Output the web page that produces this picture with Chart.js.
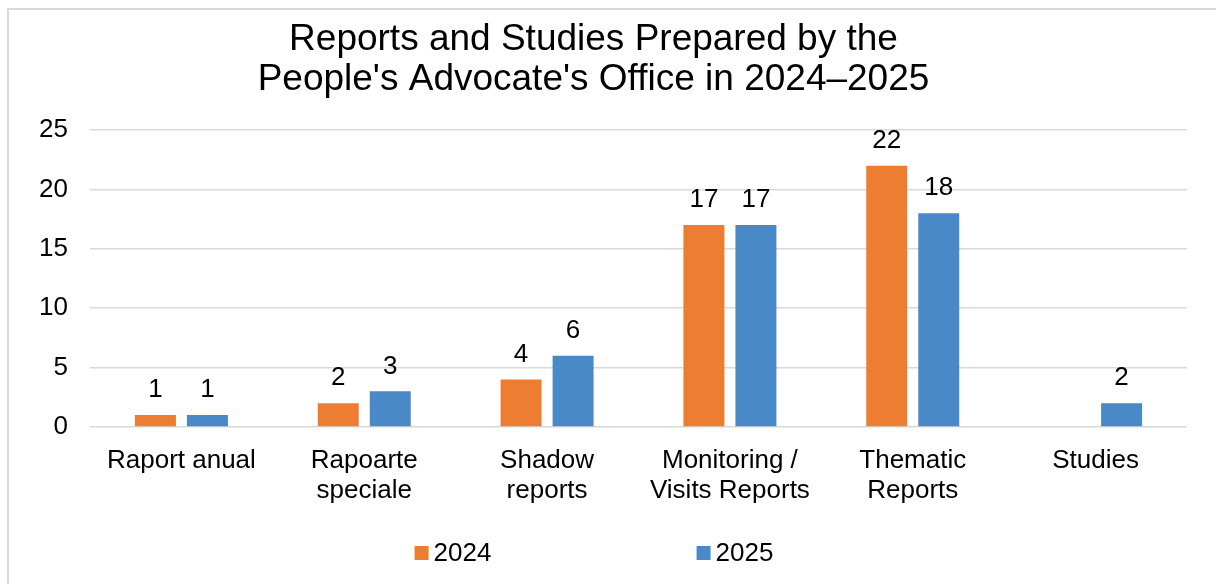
<!DOCTYPE html>
<html>
<head>
<meta charset="utf-8">
<script src="https://cdn.jsdelivr.net/npm/chart.js@4/dist/chart.umd.min.js"></script>
<style>
  html, body { margin: 0; padding: 0; background: #fff; overflow: hidden; }
  .rule { position: absolute; background: #d9d9d9; }
  #wrap { position: absolute; left: 0; top: 0; width: 1188px; height: 584px; }
</style>
</head>
<body>
<div class="rule" style="left:7px;top:8px;width:1209px;height:2px"></div>
<div class="rule" style="left:7px;top:8px;width:2px;height:576px"></div>
<div id="wrap"><canvas id="myChart"></canvas></div>
<script>
var categories = [
  "Raport anual",
  ["Rapoarte", "speciale"],
  ["Shadow", "reports"],
  ["Monitoring /", "Visits Reports"],
  ["Thematic", "Reports"],
  "Studies"
];
var values2024 = [1, 2, 4, 17, 22, null];
var values2025 = [1, 3, 6, 17, 18, 2];
var yTicks = [0, 5, 10, 15, 20, 25];
var seriesNames = ["2024", "2025"];
var seriesColors = ["#ED7D31", "#4A89C8"];

var FONT = "'Liberation Sans', Arial, sans-serif";

// value labels above the bars
var valueLabels = {
  id: "valueLabels",
  afterDatasetsDraw(chart) {
    const ctx = chart.ctx;
    ctx.save();
    ctx.font = "26px " + FONT;
    ctx.fillStyle = "#000";
    ctx.textAlign = "center";
    ctx.textBaseline = "middle";
    chart.data.datasets.forEach((ds, i) => {
      chart.getDatasetMeta(i).data.forEach((bar, j) => {
        if (ds.data[j] == null) return;
        ctx.fillText(String(ds.data[j]), bar.x, bar.y - 25);
      });
    });
    ctx.restore();
  }
};

// legend spread out like the original
var wideLegend = {
  id: "wideLegend",
  afterDraw(chart) {
    const ctx = chart.ctx;
    const step = 282;
    ctx.save();
    ctx.font = "26px " + FONT;
    ctx.textBaseline = "middle";
    const lastW = 14 + 5 + ctx.measureText(chart.data.datasets[chart.data.datasets.length - 1].label).width;
    const total = step * (chart.data.datasets.length - 1) + lastW;
    let x = chart.width / 2 - total / 2;
    const y = chart.height - 31;
    chart.data.datasets.forEach((ds) => {
      ctx.fillStyle = ds.backgroundColor;
      ctx.fillRect(x, y - 7, 14, 14);
      ctx.fillStyle = "#000";
      ctx.fillText(ds.label, x + 19, y + 1);
      x += step;
    });
    ctx.restore();
  }
};

const ctx = document.getElementById("myChart").getContext("2d");
new Chart(ctx, {
  type: "bar",
  data: {
    labels: categories,
    datasets: [
      { label: seriesNames[0], data: values2024, backgroundColor: seriesColors[0] },
      { label: seriesNames[1], data: values2025, backgroundColor: seriesColors[1] }
    ]
  },
  options: {
    responsive: true,
    maintainAspectRatio: false,
    animation: false,
    datasets: {
      bar: { categoryPercentage: 0.569, barPercentage: 0.788 }
    },
    layout: { padding: { left: 0, right: 1, top: 0, bottom: 59 } },
    plugins: {
      legend: { display: false },
      tooltip: { enabled: false },
      title: {
        display: true,
        text: ["Reports and Studies Prepared by the", "People's Advocate's Office in 2024\u20132025"],
        color: "#000",
        font: { family: FONT, size: 37, weight: "normal", lineHeight: 40 / 37 },
        padding: { top: 20, bottom: 30 }
      }
    },
    scales: {
      x: {
        grid: { display: false, drawTicks: false },
        border: { display: false },
        ticks: {
          color: "#000",
          padding: 19,
          maxRotation: 0,
          autoSkip: false,
          font: { family: FONT, size: 26, lineHeight: 30 / 26 }
        }
      },
      y: {
        min: 0,
        max: 25,
        afterBuildTicks(scale) {
          scale.ticks = yTicks.map((v) => ({ value: v }));
        },
        afterFit(scale) {
          scale.width = 90;
        },
        grid: { color: "#d9d9d9", lineWidth: 1.5, drawTicks: false },
        border: { display: false },
        ticks: {
          color: "#000",
          padding: 22,
          font: { family: FONT, size: 26 }
        }
      }
    }
  },
  plugins: [valueLabels, wideLegend]
});
</script>
</body>
</html>
